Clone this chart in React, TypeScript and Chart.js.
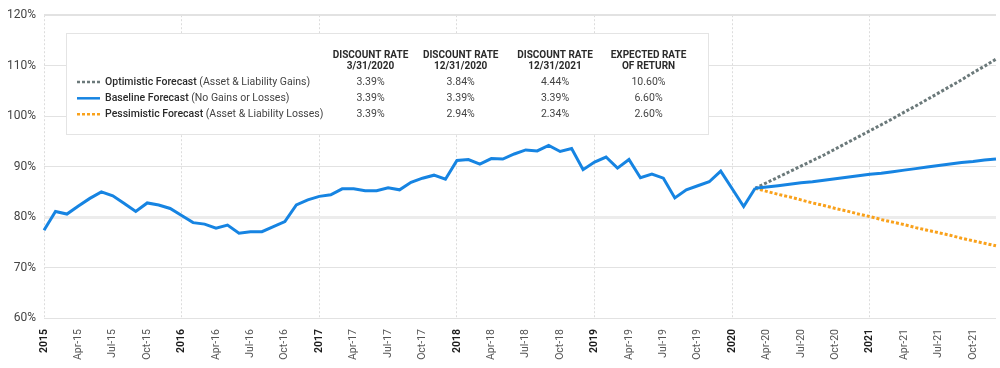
import React, { useEffect, useRef } from "react";
import { Chart, registerables } from "chart.js";

Chart.register(...registerables);

const YEARS = ["2015", "2016", "2017", "2018", "2019", "2020", "2021"];
const MONTHS = ["Jan", "Feb", "Mar", "Apr", "May", "Jun", "Jul", "Aug", "Sep", "Oct", "Nov", "Dec"];
const categories = YEARS.flatMap((y) => MONTHS.map((m) => `${m}-${y.slice(2)}`));

// Funded ratio history, Jan-15 .. Mar-20
const history = [
  77.4, 81.1, 80.6, 82.2, 83.7, 85.0, 84.2, 82.7, 81.1, 82.8, 82.4, 81.7,
  80.3, 78.9, 78.6, 77.8, 78.4, 76.8, 77.1, 77.1, 78.1, 79.1, 82.4, 83.4,
  84.1, 84.4, 85.6, 85.6, 85.2, 85.2, 85.8, 85.4, 86.9, 87.7, 88.3, 87.5,
  91.2, 91.4, 90.5, 91.6, 91.5, 92.5, 93.3, 93.1, 94.2, 93.0, 93.6, 89.4,
  90.9, 91.9, 89.7, 91.4, 87.8, 88.5, 87.7, 83.8, 85.4, 86.2, 87.0, 89.1,
  85.6, 82.1, 85.7,
];

// Forecasts, Mar-20 .. Dec-21
const optimistic = [
  85.7, 86.8, 87.9, 89.0, 90.1, 91.2, 92.3, 93.5, 94.7, 95.9, 97.1, 98.3,
  99.5, 100.8, 102.0, 103.3, 104.6, 105.9, 107.2, 108.6, 109.9, 111.3,
];
const baseline = [
  85.7, 85.95, 86.2, 86.5, 86.8, 87.0, 87.3, 87.6, 87.9, 88.2, 88.5, 88.7,
  89.0, 89.3, 89.6, 89.9, 90.2, 90.5, 90.8, 91.0, 91.3, 91.5,
];
const pessimistic = [
  85.7, 85.1, 84.5, 84.0, 83.4, 82.8, 82.3, 81.7, 81.2, 80.6, 80.1, 79.5,
  79.0, 78.5, 77.9, 77.4, 76.9, 76.4, 75.8, 75.3, 74.8, 74.3,
];

const Y_TICKS = [60, 70, 80, 90, 100, 110, 120];

const tableHeaders = [
  ["DISCOUNT RATE", "3/31/2020"],
  ["DISCOUNT RATE", "12/31/2020"],
  ["DISCOUNT RATE", "12/31/2021"],
  ["EXPECTED RATE", "OF RETURN"],
];
const tableRowNames = ["Optimistic Forecast", "Baseline Forecast", "Pessimistic Forecast"];
const tableRowNotes = ["(Asset & Liability Gains)", "(No Gains or Losses)", "(Asset & Liability Losses)"];
const tableValues = [
  ["3.39%", "3.84%", "4.44%", "10.60%"],
  ["3.39%", "3.39%", "3.39%", "6.60%"],
  ["3.39%", "2.94%", "2.34%", "2.60%"],
];

const BLUE = "#1684e2";
const GRAY = "#6b797a";
const ORANGE = "#f9a11b";
const FONT = "Roboto";

const forecastStart = history.length - 1;
const pad = (n: number) => Array(n).fill(null);

const tablePlugin = {
  id: "forecastTable",
  beforeDatasetsDraw(chart: any) {
    const ctx = chart.ctx as CanvasRenderingContext2D;
    ctx.save();
    const bx = 66, by = 33, bw = 642, bh = 101;
    ctx.fillStyle = "#ffffff";
    ctx.fillRect(bx, by, bw, bh);
    ctx.strokeStyle = "#e4e4e4";
    ctx.lineWidth = 1;
    ctx.strokeRect(bx + 0.5, by + 0.5, bw, bh);

    const colX = [370.5, 460.7, 555, 648.5];
    const rowY = [82, 98.3, 114.3];
    ctx.textBaseline = "middle";
    ctx.textAlign = "center";
    ctx.fillStyle = "#2b2b2b";
    ctx.font = `bold 10px ${FONT}`;
    tableHeaders.forEach((h, i) => {
      ctx.fillText(h[0], colX[i], 55.5);
      ctx.fillText(h[1], colX[i], 66);
    });

    const colors = [GRAY, BLUE, ORANGE];
    const dashes = [[3, 2], [], [3, 2]];
    tableRowNames.forEach((name, r) => {
      const y = rowY[r];
      ctx.beginPath();
      ctx.setLineDash(dashes[r]);
      ctx.strokeStyle = colors[r];
      ctx.lineWidth = 2.5;
      ctx.moveTo(77, y);
      ctx.lineTo(100, y);
      ctx.stroke();
      ctx.setLineDash([]);

      ctx.textAlign = "left";
      ctx.fillStyle = "#2b2b2b";
      ctx.font = `500 10.5px ${FONT}`;
      ctx.fillText(name, 105, y);
      const w = ctx.measureText(name + " ").width;
      ctx.font = `400 10.5px ${FONT}`;
      ctx.fillStyle = "#444";
      ctx.fillText(tableRowNotes[r], 105 + w, y);

      ctx.textAlign = "center";
      ctx.font = `400 10.5px ${FONT}`;
      tableValues[r].forEach((v, c) => ctx.fillText(v, colX[c], y));
    });
    ctx.restore();
  },
};

export default function App() {
  const ref = useRef<HTMLCanvasElement | null>(null);

  useEffect(() => {
    document.body.style.margin = "0";
    if (!ref.current) return;
    const chart = new Chart(ref.current, {
      type: "line",
      data: {
        labels: categories,
        datasets: [
          {
            label: "History",
            data: [...history, ...pad(categories.length - history.length)],
            borderColor: BLUE,
            borderWidth: 3,
            pointRadius: 0,
            tension: 0,
            borderJoinStyle: "miter",
          },
          {
            label: "Baseline Forecast",
            data: [...pad(forecastStart), ...baseline],
            borderColor: BLUE,
            borderWidth: 3,
            pointRadius: 0,
            tension: 0,
          },
          {
            label: "Optimistic Forecast",
            data: [...pad(forecastStart), ...optimistic],
            borderColor: GRAY,
            borderWidth: 3,
            borderDash: [3, 2],
            pointRadius: 0,
            tension: 0,
          },
          {
            label: "Pessimistic Forecast",
            data: [...pad(forecastStart), ...pessimistic],
            borderColor: ORANGE,
            borderWidth: 3,
            borderDash: [3, 2],
            pointRadius: 0,
            tension: 0,
          },
        ],
      },
      options: {
        animation: false,
        responsive: false,
        maintainAspectRatio: false,
        layout: { padding: { top: 15, right: 4, bottom: 0, left: 0 } },
        plugins: { legend: { display: false }, tooltip: { enabled: false } },
        scales: {
          x: {
            type: "category",
            offset: false,
            afterFit: (s: any) => {
              s.height = 50;
              s.paddingLeft = 0;
              s.paddingRight = 0;
            },
            grid: {
              drawTicks: false,
              color: (c: any) => (c.index % 12 === 0 ? "#dcdcdc" : "rgba(0,0,0,0)"),
              lineWidth: 1,
            },
            border: { display: false, dash: [2, 2] },
            ticks: {
              autoSkip: false,
              maxRotation: 90,
              minRotation: 90,
              padding: 11,
              color: (c: any) => (c.index % 12 === 0 ? "#1f1f1f" : "#555"),
              font: (c: any) => ({
                family: FONT,
                size: 10.5,
                weight: c.index % 12 === 0 ? "bold" : "normal",
              }),
              callback: (_v: any, i: number) =>
                i % 12 === 0 ? YEARS[i / 12] : i % 3 === 0 ? categories[i] : "",
            },
          },
          y: {
            min: Y_TICKS[0],
            max: Y_TICKS[Y_TICKS.length - 1],
            afterFit: (s: any) => {
              s.width = 44;
            },
            afterBuildTicks: (s: any) => {
              s.ticks = Y_TICKS.map((v) => ({ value: v }));
            },
            grid: {
              drawTicks: false,
              color: (c: any) => (c.tick && c.tick.value === 80 ? "#ececec" : "#e2e2e2"),
              lineWidth: (c: any) => (c.tick && (c.tick.value === 80 ? 3 : c.tick.value === 120 ? 2 : 1)),
            },
            border: { display: false },
            ticks: {
              padding: 8,
              color: "#444",
              font: { family: FONT, size: 12 },
              callback: (v: any) => `${v}%`,
            },
          },
        },
      },
      plugins: [tablePlugin],
    });
    return () => chart.destroy();
  }, []);

  return (
    <div style={{ position: "absolute", left: 0, top: 0, width: 1000, height: 368 }}>
      <canvas ref={ref} width={1000} height={368} />
    </div>
  );
}
